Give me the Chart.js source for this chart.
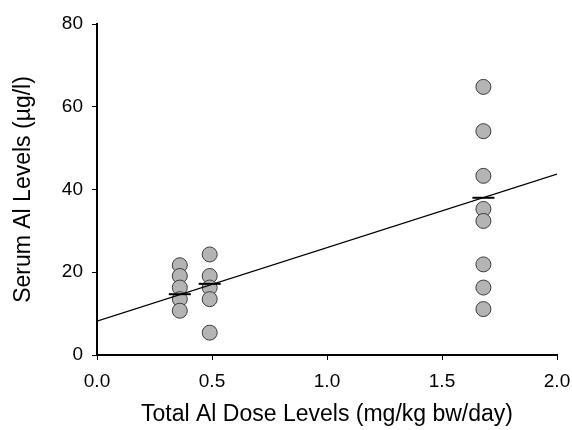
<!DOCTYPE html>
<html lang="en">
<head>
  <meta charset="UTF-8" />
  <title>Serum Al vs Total Al Dose</title>
  <script src="https://cdn.jsdelivr.net/npm/chart.js"></script>
  <style>
    html, body { margin: 0; padding: 0; background: #fff; }
    #wrap { width: 572px; height: 430px; }
  </style>
</head>
<body>
  <div id="wrap"><canvas id="doseChart" width="572" height="430"></canvas></div>

  <script>
    // dose level of each group (mg/kg bw/day)
    const doseLevels = [0.36, 0.49, 1.68];
    // serum Al (ug/l) per group
    const lowDose = [21.7, 19.1, 16.3, 13.5, 10.7];
    const midDose = [24.3, 19.1, 16.3, 13.5, 5.4];
    const highDose = [64.8, 54.1, 43.3, 35.3, 32.4, 21.9, 16.3, 11.1];
    const groupMeans = [14.7, 17.2, 38.0];
    // regression line ends
    const fitX = [0, 2];
    const fitY = [8.2, 43.7];
    const xTicks = [0, 0.5, 1.0, 1.5, 2.0];
    const yTicks = [0, 20, 40, 60, 80];

    const groups = [lowDose, midDose, highDose];
    const points = [];
    groups.forEach((g, i) => g.forEach(v => points.push({ x: doseLevels[i], y: v })));

    const fitLine = fitX.map((x, i) => ({ x: x, y: fitY[i] }));
    const means = groupMeans.map((m, i) => ({ x: doseLevels[i], y: m }));

    const font = 'Liberation Sans, Arial, sans-serif';

    new Chart(document.getElementById('doseChart'), {
      type: 'scatter',
      data: {
        datasets: [
          {
            type: 'line',
            data: fitLine,
            borderColor: '#000',
            borderWidth: 1.2,
            pointRadius: 0,
            fill: false,
            order: 1
          },
          {
            data: means,
            pointStyle: 'line',
            pointRadius: 11,
            borderColor: '#000',
            borderWidth: 2,
            order: 2
          },
          {
            data: points,
            pointRadius: 7.5,
            backgroundColor: '#b4b4b4',
            borderColor: '#3c3c3c',
            borderWidth: 1,
            order: 3
          }
        ]
      },
      options: {
        responsive: false,
        animation: false,
        layout: { padding: { top: 24, right: 0, left: 10, bottom: 2 } },
        plugins: { legend: { display: false }, tooltip: { enabled: false } },
        scales: {
          x: {
            type: 'linear',
            min: 0, max: 2,
            afterBuildTicks: axis => { axis.ticks = xTicks.map(v => ({ value: v })); },
            afterFit: axis => {
              axis.height = 73;
              axis.paddingLeft = 0;
              axis.paddingRight = 15;
            },
            ticks: {
              color: '#000',
              font: { family: font, size: 19 },
              padding: 10,
              maxRotation: 0,
              callback: v => Number(v).toFixed(1)
            },
            grid: { drawOnChartArea: false, drawTicks: true, tickLength: 5, color: '#000' },
            border: { color: '#000', width: 2 },
            title: {
              display: true,
              text: 'Total Al Dose Levels (mg/kg bw/day)',
              color: '#000',
              font: { family: font, size: 23 },
              padding: { top: 8, bottom: 0 }
            }
          },
          y: {
            min: 0, max: 80,
            afterBuildTicks: axis => { axis.ticks = yTicks.map(v => ({ value: v })); },
            afterFit: axis => { axis.width = 87; },
            ticks: {
              color: '#000',
              font: { family: font, size: 19 },
              padding: 9
            },
            grid: { drawOnChartArea: false, drawTicks: true, tickLength: 5, color: '#000' },
            border: { color: '#000', width: 2 },
            title: {
              display: true,
              text: 'Serum Al Levels (µg/l)',
              color: '#000',
              font: { family: font, size: 23 },
              padding: { top: 0, bottom: 8 }
            }
          }
        }
      }
    });
  </script>
</body>
</html>
